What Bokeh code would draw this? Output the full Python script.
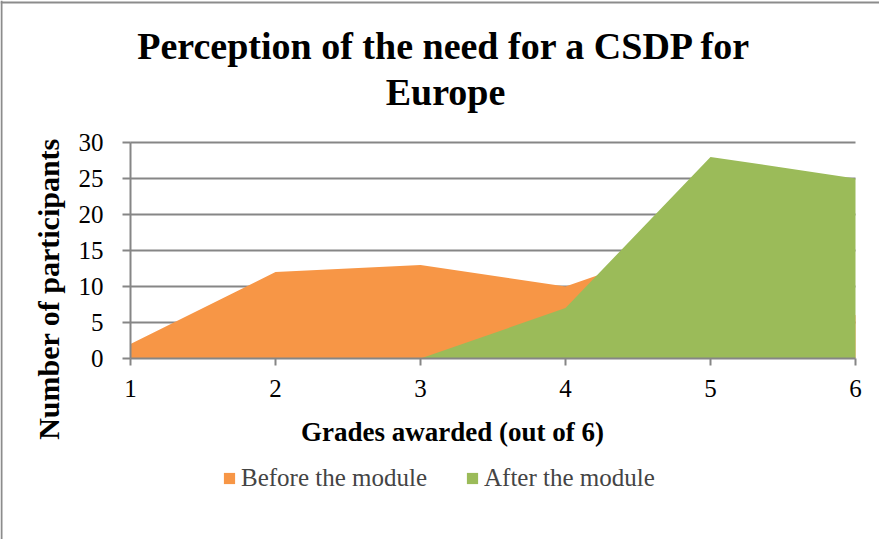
from math import pi
from bokeh.plotting import figure
from bokeh.models import Label, Legend, LegendItem, FixedTicker, Range1d, Span
from bokeh.embed import file_html
from bokeh.resources import INLINE

grades = [1, 2, 3, 4, 5, 6]
before = [2, 12, 13, 10, 17, 6]
after = [0, 0, 0, 7, 28, 25]
y_ticks = [0, 5, 10, 15, 20, 25, 30]

title_lines = ["Perception of the need for a CSDP for", "Europe"]
x_title = "Grades awarded (out of 6)"
y_title = "Number of participants"
series_names = ["Before the module", "After the module"]

ORANGE = "#F79646"
GREEN = "#9BBB59"
GRAY = "#868686"
FONT = "Liberation Serif"

W, H = 879, 539
# plot area (data region) in figure pixels
PL, PR, PT, PB = 130, 855, 142, 358
xs = (PR - PL) / (grades[-1] - grades[0])
ys = (PB - PT) / (y_ticks[-1] - y_ticks[0])
x0 = grades[0] - PL / xs
x1 = grades[-1] + (W - PR) / xs
y0 = y_ticks[0] - (H - PB) / ys
y1 = y_ticks[-1] + PT / ys

p = figure(width=W, height=H, output_backend="svg", toolbar_location=None,
           x_range=Range1d(x0, x1), y_range=Range1d(y0, y1),
           min_border=0, min_border_left=0, min_border_right=0,
           min_border_top=0, min_border_bottom=0)
p.background_fill_color = "white"
p.border_fill_color = "white"
p.outline_line_color = None
p.xgrid.visible = False
p.ygrid.visible = False

# horizontal gridlines limited to the plot area, drawn beneath the areas
grid_y = y_ticks[1:]
p.segment(x0=[grades[0]] * len(grid_y), x1=[grades[-1]] * len(grid_y),
          y0=grid_y, y1=grid_y, line_color=GRAY, line_width=2)

r_before = p.varea(x=grades, y1=0, y2=before, fill_color=ORANGE)
r_after = p.varea(x=grades, y1=0, y2=after, fill_color=GREEN)

for ax in (p.xaxis[0], p.yaxis[0]):
    ax.axis_line_color = GRAY
    ax.axis_line_width = 2
    ax.major_tick_line_color = GRAY
    ax.major_tick_line_width = 2
    ax.minor_tick_line_color = None
    ax.major_tick_in = 0
    ax.major_label_text_font = FONT
    ax.major_label_text_font_size = "25px"
    ax.major_label_text_color = "black"

p.xaxis.ticker = FixedTicker(ticks=grades)
p.xaxis.bounds = (grades[0], grades[-1])
p.xaxis.fixed_location = 0
p.xaxis.major_tick_out = 7
p.xaxis.major_label_standoff = 14
p.yaxis.ticker = FixedTicker(ticks=y_ticks)
p.yaxis.bounds = (y_ticks[0], y_ticks[-1])
p.yaxis.fixed_location = grades[0]
p.yaxis.major_tick_out = 8
p.yaxis.major_label_standoff = 19

def lab(text, x, y, size, bold=False, angle=0):
    p.add_layout(Label(x=x, y=y, x_units="screen", y_units="screen", text=text,
                       text_font=FONT, text_font_size=size,
                       text_font_style="bold" if bold else "normal",
                       text_align="center", text_baseline="middle", angle=angle,
                       text_color="black"))

lab(title_lines[0], 444, H - 45.5, "38px", bold=True)
lab(title_lines[1], 445, H - 91, "38px", bold=True)
lab(x_title, 452, H - 431, "27px", bold=True)
lab(y_title, 48, H - 288.5, "30px", bold=True, angle=pi / 2)

for name, rend, lx in ((series_names[0], r_before, 222), (series_names[1], r_after, 465)):
    lg = Legend(items=[LegendItem(label=name, renderers=[rend])],
                location=(lx, H - 492.5), orientation="horizontal",
                padding=0, margin=0, spacing=0, label_standoff=5,
                glyph_width=14, glyph_height=14, label_height=30,
                label_text_font=FONT, label_text_font_size="25px",
                border_line_color=None, background_fill_alpha=0)
    p.add_layout(lg, "center")

p.add_layout(Span(location=1, dimension="height", location_units="screen",
                  line_color="#8c8c8c", line_width=2))
p.add_layout(Span(location=H - 2, dimension="width", location_units="screen",
                  line_color="#8c8c8c", line_width=2))

open("out.html", "w").write(file_html(p, INLINE))
